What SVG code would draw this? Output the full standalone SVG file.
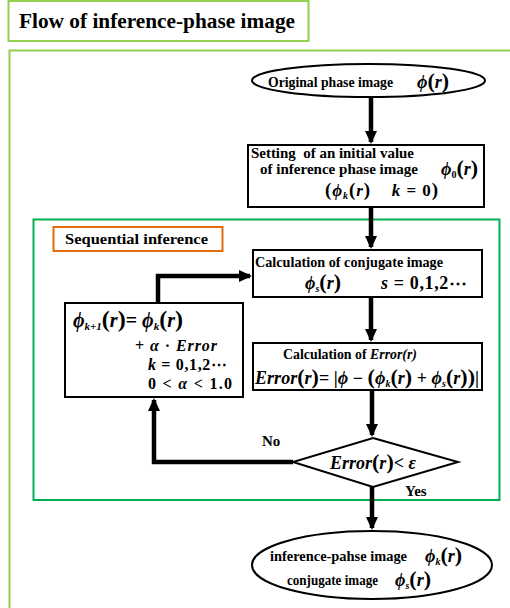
<svg xmlns="http://www.w3.org/2000/svg" width="510" height="608" viewBox="0 0 510 608">
<style>
.t{font-family:'Liberation Serif',serif;font-weight:bold;font-size:14px;fill:#000}
.m{font-family:'Liberation Serif',serif;font-weight:bold;font-style:italic;font-size:18px;fill:#000}
.p{font-style:normal;font-size:22px}
.n{font-style:normal}
.s{font-size:10px}
.box{fill:#fff;stroke:#000;stroke-width:2}
.con{fill:none;stroke:#000;stroke-width:4.5;stroke-linejoin:miter}
</style>
<defs>
<marker id="ah" markerUnits="userSpaceOnUse" markerWidth="14" markerHeight="14" viewBox="0 0 14 14" refX="11" refY="7" orient="auto">
<path d="M0,1 L13,7 L0,13 Z" fill="#000"/>
</marker>
</defs>
<g id="title">
<rect x="8.5" y="1" width="300" height="40" fill="#fff" stroke="#92d050" stroke-width="2"/>
<text x="19" y="28" class="t" style="font-size:21px" textLength="276" lengthAdjust="spacingAndGlyphs">Flow of inference-phase image</text>
</g>
<g id="outer-frame">
<rect x="9.5" y="50.5" width="510" height="600" fill="none" stroke="#92d050" stroke-width="2"/>
</g>
<g id="sequential-frame">
<rect x="33.5" y="219.5" width="466" height="280.5" fill="none" stroke="#00b050" stroke-width="2"/>
<rect x="53.5" y="227" width="169" height="24" fill="#fff" stroke="#e36c09" stroke-width="2"/>
<text x="65" y="244" class="t" textLength="143" lengthAdjust="spacingAndGlyphs">Sequential inference</text>
</g>
<g id="connectors">
<path class="con" d="M371,97 V142" marker-end="url(#ah)"/>
<path class="con" d="M371,207 V247" marker-end="url(#ah)"/>
<path class="con" d="M371,297 V340" marker-end="url(#ah)"/>
<path class="con" d="M372,390 V435" marker-end="url(#ah)"/>
<path class="con" d="M372,487 V528" marker-end="url(#ah)"/>
<path class="con" d="M158,303 V276 H250" marker-end="url(#ah)"/>
<path class="con" d="M293,462 H154 V400" marker-end="url(#ah)"/>
</g>
<g id="start">
<ellipse cx="368.5" cy="80.5" rx="116.5" ry="16.5" fill="#fff" stroke="#000" stroke-width="2"/>
<text x="268" y="87" class="t" textLength="125" lengthAdjust="spacingAndGlyphs">Original phase image</text>
<text x="417" y="88" class="m">ϕ<tspan class="p">(</tspan>r<tspan class="p">)</tspan></text>
</g>
<g id="init">
<rect x="248" y="145" width="236" height="62" class="box"/>
<text x="251" y="158" class="t" textLength="163" lengthAdjust="spacingAndGlyphs" xml:space="preserve">Setting  of an initial value</text>
<text x="260" y="174" class="t" textLength="158" lengthAdjust="spacingAndGlyphs">of inference phase image</text>
<text x="441" y="175" class="m">ϕ<tspan class="s n" dy="3">0</tspan><tspan class="p" dy="-3">(</tspan>r<tspan class="p">)</tspan></text>
<text x="325" y="196" class="m" style="font-size:17px" textLength="113" lengthAdjust="spacing" xml:space="preserve"><tspan style="font-style:normal;font-size:19px">(</tspan>ϕ<tspan class="s" dy="3">k</tspan><tspan style="font-style:normal;font-size:19px" dy="-3">(</tspan>r<tspan style="font-style:normal;font-size:19px">)</tspan>    k <tspan class="n">= 0</tspan><tspan style="font-style:normal;font-size:19px">)</tspan></text>
</g>
<g id="conjugate">
<rect x="253" y="250" width="229" height="47" class="box"/>
<text x="255" y="267" class="t" textLength="188" lengthAdjust="spacingAndGlyphs">Calculation of conjugate image</text>
<text x="305" y="289" class="m">ϕ<tspan class="s" dy="3">s</tspan><tspan class="p" dy="-3">(</tspan>r<tspan class="p">)</tspan></text>
<text x="381" y="289" class="m" textLength="86" lengthAdjust="spacing">s <tspan class="n">= 0,1,2⋯</tspan></text>
</g>
<g id="error">
<rect x="253" y="343" width="229" height="47" class="box"/>
<text x="283" y="359" class="t" textLength="134" lengthAdjust="spacingAndGlyphs">Calculation of <tspan style="font-style:italic">Error(r)</tspan></text>
<text x="255" y="384" class="m" textLength="224" lengthAdjust="spacing">Error<tspan class="p">(</tspan>r<tspan class="p">)</tspan><tspan class="n">= |</tspan>ϕ <tspan class="n">− </tspan><tspan class="p">(</tspan>ϕ<tspan class="s" dy="3">k</tspan><tspan class="p" dy="-3">(</tspan>r<tspan class="p">)</tspan><tspan class="n"> + </tspan>ϕ<tspan class="s" dy="3">s</tspan><tspan class="p" dy="-3">(</tspan>r<tspan class="p">))</tspan><tspan class="n">|</tspan></text>
</g>
<g id="update">
<rect x="65" y="303" width="178" height="94" class="box"/>
<text x="73" y="327" class="m" style="font-size:20px">ϕ<tspan class="s" style="font-size:11px" dy="3">k+1</tspan><tspan class="p" style="font-size:24px" dy="-3">(</tspan>r<tspan class="p" style="font-size:24px">)</tspan><tspan class="n">= </tspan>ϕ<tspan class="s" style="font-size:11px" dy="3">k</tspan><tspan class="p" style="font-size:24px" dy="-3">(</tspan>r<tspan class="p" style="font-size:24px">)</tspan></text>
<text x="135" y="351" class="m" style="font-size:16px" textLength="82" lengthAdjust="spacing"><tspan class="n">+ </tspan>α <tspan class="n">· </tspan>Error</text>
<text x="148" y="370" class="m" style="font-size:16px" textLength="79" lengthAdjust="spacing">k <tspan class="n">= 0,1,2⋯</tspan></text>
<text x="148" y="389" class="m" style="font-size:16px" textLength="84" lengthAdjust="spacing"><tspan class="n">0 &lt; </tspan>α <tspan class="n">&lt; 1.0</tspan></text>
</g>
<g id="decision">
<polygon points="373,438 458,462 373,487 293,462" fill="#fff" stroke="#000" stroke-width="2"/>
<text x="330" y="469" class="m">Error<tspan class="p">(</tspan>r<tspan class="p">)</tspan><tspan class="n">&lt; </tspan>ε</text>
<text x="262" y="446" class="t" style="font-size:15px">No</text>
<text x="405" y="496" class="t" style="font-size:15px">Yes</text>
</g>
<g id="end">
<ellipse cx="372" cy="565" rx="120" ry="34" fill="#fff" stroke="#000" stroke-width="2"/>
<text x="270" y="561" class="t" textLength="137" lengthAdjust="spacingAndGlyphs">inference-pahse image</text>
<text x="425" y="562" class="m">ϕ<tspan class="s" dy="3">k</tspan><tspan class="p" dy="-3">(</tspan>r<tspan class="p">)</tspan></text>
<text x="287" y="585" class="t" textLength="91" lengthAdjust="spacingAndGlyphs">conjugate image</text>
<text x="395" y="586" class="m">ϕ<tspan class="s" dy="3">s</tspan><tspan class="p" dy="-3">(</tspan>r<tspan class="p">)</tspan></text>
</g>
</svg>
